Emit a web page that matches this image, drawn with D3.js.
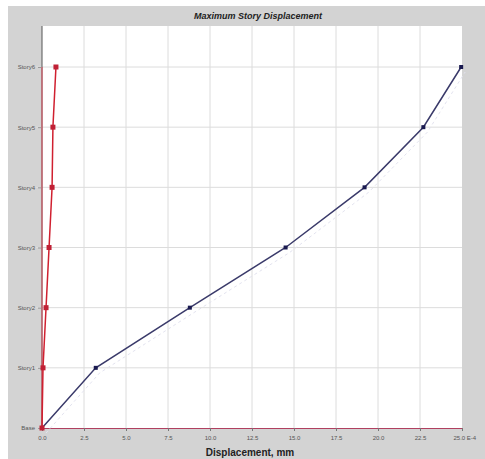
<!DOCTYPE html>
<html>
<head>
<meta charset="utf-8">
<script src="https://cdn.jsdelivr.net/npm/d3@7"></script>
<style>
  body { margin: 0; background: #fff; }
  svg { display: block; font-family: "Liberation Sans", Arial, sans-serif; }
</style>
</head>
<body>
<div id="chart"></div>
<script>
// stories from bottom to top
const stories = ["Base", "Story1", "Story2", "Story3", "Story4", "Story5", "Story6"];
// displacement values (x 1e-4 mm)
const dispX = [0, 3.2, 8.8, 14.5, 19.2, 22.7, 24.95];
const dispY = [0, 0.06, 0.24, 0.42, 0.6, 0.65, 0.83];
const xTicks = [0, 2.5, 5, 7.5, 10, 12.5, 15, 17.5, 20, 22.5, 25];

const W = 485, H = 459;
const margin = {left: 43, right: 23, top: 26, bottom: 31};

const svg = d3.select("#chart").append("svg")
    .attr("width", W)
    .attr("height", H);

// grey frame
svg.append("rect")
    .attr("x", 8).attr("y", 6)
    .attr("width", W - 8).attr("height", H - 6)
    .attr("fill", "#d3d3d3");

const x = d3.scaleLinear().domain([0, 25]).range([margin.left - 1, W - margin.right]);
const y = d3.scalePoint().domain(stories).range([H - margin.bottom, 67]);

// plot area
svg.append("rect")
    .attr("x", x(0)).attr("y", margin.top)
    .attr("width", x(25) - x(0)).attr("height", y("Base") - margin.top)
    .attr("fill", "#fff");

svg.append("text")
    .attr("x", 258).attr("y", 19)
    .attr("text-anchor", "middle")
    .style("font-size", "9px")
    .style("font-weight", "bold")
    .style("font-style", "italic")
    .attr("fill", "#222")
    .text("Maximum Story Displacement");

// grid
svg.append("g").selectAll("line")
    .data(xTicks.slice(1, -1))
    .enter().append("line")
    .attr("x1", d => x(d)).attr("x2", d => x(d))
    .attr("y1", margin.top).attr("y2", y("Base"))
    .attr("stroke", "#dcdcdc");

svg.append("g").selectAll("line")
    .data(stories.slice(1))
    .enter().append("line")
    .attr("x1", x(0) - 6).attr("x2", x(25))
    .attr("y1", d => y(d)).attr("y2", d => y(d))
    .attr("stroke", "#dcdcdc");

// x axis
const xAxis = svg.append("g")
    .attr("transform", "translate(0," + y("Base") + ")")
    .call(d3.axisBottom(x).tickValues(xTicks).tickSize(3)
        .tickFormat((d, i) => i == xTicks.length - 1 ? d3.format(".1f")(d) + " E-4" : d3.format(".1f")(d)));
xAxis.select(".domain").attr("stroke", "#b04060");
xAxis.selectAll(".tick line").attr("stroke", "#777");
xAxis.selectAll("text").style("font-size", "6px").attr("fill", "#555").attr("dy", "1em");
xAxis.selectAll(".tick:last-child text").attr("text-anchor", "start").attr("dx", "-9px");

// y axis
const yAxis = svg.append("g")
    .attr("transform", "translate(" + x(0) + ",0)")
    .call(d3.axisLeft(y).tickSize(4));
yAxis.select(".domain").attr("stroke", "#555").attr("d", "M0," + margin.top + "V" + y("Base"));
yAxis.selectAll(".tick line").attr("stroke", "#999");
yAxis.selectAll("text").style("font-size", "6px").attr("fill", "#555");

svg.append("text")
    .attr("x", 250).attr("y", 456)
    .attr("text-anchor", "middle")
    .style("font-size", "10px")
    .style("font-weight", "bold")
    .attr("fill", "#222")
    .text("Displacement, mm");

const line = d3.line()
    .x(d => x(d[0]))
    .y(d => y(d[1]));

const blue = dispX.map((v, i) => [v, stories[i]]);
const red = dispY.map((v, i) => [v, stories[i]]);

// faint ghost trace next to the blue line
svg.append("path")
    .datum(blue)
    .attr("fill", "none")
    .attr("stroke", "#e3e3ef")
    .attr("stroke-width", 1)
    .attr("stroke-dasharray", "3,3")
    .attr("transform", "translate(4,5)")
    .attr("d", line);

svg.append("path")
    .datum(blue)
    .attr("fill", "none")
    .attr("stroke", "#3a3a6a")
    .attr("stroke-width", 1.5)
    .attr("d", line);

svg.selectAll(".bdot")
    .data(blue)
    .enter().append("rect")
    .attr("class", "bdot")
    .attr("x", d => x(d[0]) - 2).attr("y", d => y(d[1]) - 2)
    .attr("width", 4).attr("height", 4)
    .attr("fill", "#1a1a50");

// red series
svg.append("line")
    .attr("x1", x(0)).attr("x2", x(0))
    .attr("y1", y("Story6")).attr("y2", y("Base"))
    .attr("stroke", "#e05060").attr("stroke-width", 1);

svg.append("path")
    .datum(red)
    .attr("fill", "none")
    .attr("stroke", "#d02030")
    .attr("stroke-width", 1.5)
    .attr("d", line);

svg.selectAll(".rdot")
    .data(red)
    .enter().append("rect")
    .attr("class", "rdot")
    .attr("x", d => x(d[0]) - 2.5).attr("y", d => y(d[1]) - 2.5)
    .attr("width", 5).attr("height", 5)
    .attr("fill", "#c02035");
</script>
</body>
</html>
